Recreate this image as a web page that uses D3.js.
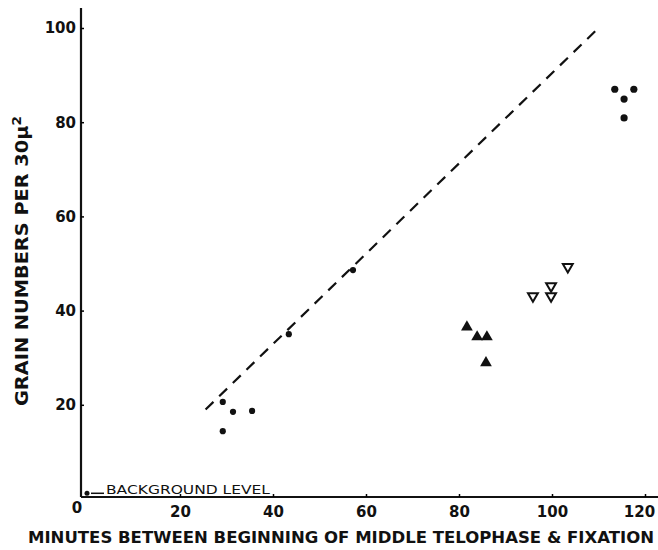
<!DOCTYPE html>
<html>
<head>
<meta charset="utf-8">
<script src="https://cdn.jsdelivr.net/npm/d3@7"></script>
<style>
  body { margin: 0; background: #fff; }
  text { font-family: "DejaVu Sans", sans-serif; font-weight: bold; fill: #111; }
</style>
</head>
<body>
<svg width="658" height="550"></svg>
<script>
// data
var dotsX = [29.2, 29.2, 31.4, 35.5, 43.4, 57.2, 113.5, 117.6, 115.5, 115.5];
var dotsY = [20.6, 14.4, 18.5, 18.7, 35.0, 48.6, 87.0, 87.0, 84.9, 80.9];
var triX = [81.7, 83.9, 86.0, 85.8];
var triY = [36.5, 34.4, 34.4, 28.9];
var openTriX = [95.9, 99.8, 99.8, 103.4];
var openTriY = [43.1, 45.2, 43.1, 49.3];
var lineX = [25.5, 110];
var lineY = [19, 100];
var xTicks = [20, 40, 60, 80, 100, 120];
var yTicks = [20, 40, 60, 80, 100];
var backgroundLevel = 1;

var svg = d3.select('svg');

var xScale = d3.scaleLinear().domain([0, 120]).range([87, 645]);
var yScale = d3.scaleLinear().domain([0, 100]).range([499, 28]);

var axisX0 = 81, axisY0 = 497;

// axis lines
svg.append('line')
    .attr('x1', axisX0).attr('x2', 658)
    .attr('y1', axisY0).attr('y2', axisY0)
    .attr('stroke', '#111').attr('stroke-width', 2.2);
svg.append('line')
    .attr('x1', axisX0).attr('x2', axisX0)
    .attr('y1', axisY0).attr('y2', 8)
    .attr('stroke', '#111').attr('stroke-width', 2.2);

// ticks + labels
var xAxis = d3.axisBottom(xScale).tickValues(xTicks).tickSize(-3).tickPadding(9);
var gx = svg.append('g').attr('transform', 'translate(0,' + axisY0 + ')').call(xAxis);
gx.select('.domain').remove();
gx.selectAll('text').style('font-size', '15px')
    .attr('dx', function(d) { return d == 120 ? -6 : 0; });
gx.selectAll('line').attr('stroke-width', 1.5);

var yAxis = d3.axisLeft(yScale).tickValues(yTicks).tickSize(-3).tickPadding(5);
var gy = svg.append('g').attr('transform', 'translate(' + axisX0 + ',0)').call(yAxis);
gy.select('.domain').remove();
gy.selectAll('text').style('font-size', '15px');
gy.selectAll('line').attr('stroke-width', 1.5);

svg.append('text')
    .attr('x', xScale(0) - 10).attr('y', 513)
    .attr('text-anchor', 'middle')
    .style('font-size', '15px')
    .text('0');

// axis titles
svg.append('text')
    .attr('x', 28).attr('y', 543)
    .attr('textLength', 626).attr('lengthAdjust', 'spacingAndGlyphs')
    .style('font-size', '16px')
    .text('MINUTES BETWEEN BEGINNING OF MIDDLE TELOPHASE & FIXATION');

var yTitle = svg.append('text')
    .attr('transform', 'translate(28,406) rotate(-90)')
    .attr('textLength', 290).attr('lengthAdjust', 'spacingAndGlyphs')
    .style('font-size', '17px');
yTitle.append('tspan').text('GRAIN NUMBERS PER 30μ');
yTitle.append('tspan').attr('dy', -7).style('font-size', '12px').text('2');

// dashed line
svg.append('line')
    .attr('x1', xScale(lineX[0])).attr('y1', yScale(lineY[0]))
    .attr('x2', xScale(lineX[1])).attr('y2', yScale(lineY[1]))
    .attr('stroke', '#111').attr('stroke-width', 2.2)
    .attr('stroke-dasharray', '11,8');

// background level
svg.append('circle')
    .attr('cx', xScale(0)).attr('cy', yScale(backgroundLevel) - 1)
    .attr('r', 2.5).attr('fill', '#111');
svg.append('line')
    .attr('x1', xScale(0) + 4).attr('x2', xScale(0) + 17)
    .attr('y1', yScale(backgroundLevel) - 1).attr('y2', yScale(backgroundLevel) - 1)
    .attr('stroke', '#111').attr('stroke-width', 1.5);
svg.append('text')
    .attr('x', 106).attr('y', 494)
    .attr('textLength', 164).attr('lengthAdjust', 'spacingAndGlyphs')
    .style('font-size', '13px').style('font-weight', 'normal')
    .text('BACKGROUND LEVEL');

// dots
svg.selectAll('.dot')
    .data(d3.range(dotsX.length))
    .enter().append('circle')
    .attr('class', 'dot')
    .attr('cx', function(i) { return xScale(dotsX[i]); })
    .attr('cy', function(i) { return yScale(dotsY[i]); })
    .attr('r', function(i) { return dotsX[i] > 100 ? 3.6 : 3.1; })
    .attr('fill', '#111');

// filled triangles
var triSym = d3.symbol().type(d3.symbolTriangle).size(60);
svg.selectAll('.tri')
    .data(d3.range(triX.length))
    .enter().append('path')
    .attr('class', 'tri')
    .attr('d', triSym)
    .attr('transform', function(i) { return 'translate(' + xScale(triX[i]) + ',' + yScale(triY[i]) + ')'; })
    .attr('fill', '#111');

// open inverted triangles
var openSym = d3.symbol().type(d3.symbolTriangle).size(42);
svg.selectAll('.otri')
    .data(d3.range(openTriX.length))
    .enter().append('path')
    .attr('class', 'otri')
    .attr('d', openSym)
    .attr('transform', function(i) { return 'translate(' + xScale(openTriX[i]) + ',' + yScale(openTriY[i]) + ') rotate(180)'; })
    .attr('fill', '#fff')
    .attr('stroke', '#111')
    .attr('stroke-width', 2);
</script>
</body>
</html>
